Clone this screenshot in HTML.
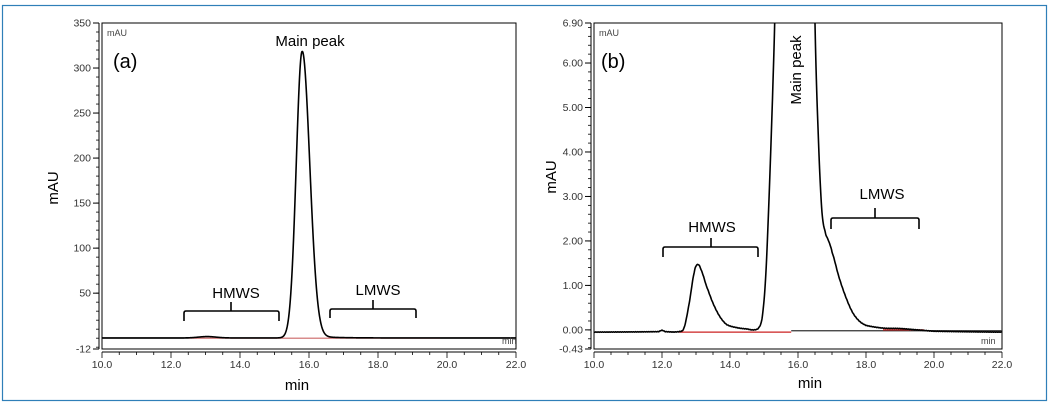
<!DOCTYPE html>
<html><head><meta charset="utf-8"><style>
html,body{margin:0;padding:0;background:#fff}
svg{display:block}
text{font-family:"Liberation Sans",Arial,sans-serif}
</style></head><body>
<svg id="s" width="1050" height="404" xmlns="http://www.w3.org/2000/svg">
<rect x="2.5" y="5.5" width="1044" height="395" fill="#fff" stroke="#2f7fb8" stroke-width="1.2"/>
<defs>
<clipPath id="ca"><rect x="102" y="23" width="414" height="326"/></clipPath>
<clipPath id="cb"><rect x="594" y="23" width="408" height="326"/></clipPath>
</defs>
<g id="ga"></g><g id="gb"></g>
<text x="107" y="36" font-size="9" fill="#444">mAU</text>
<text x="113" y="68" font-size="20" fill="#000">(a)</text>
<text x="310" y="46" font-size="15" fill="#000" text-anchor="middle">Main peak</text>
<text x="236" y="298" font-size="15" fill="#000" text-anchor="middle">HMWS</text>
<text x="378" y="295" font-size="15" fill="#000" text-anchor="middle">LMWS</text>
<path d="M184,321 V313 Q184,311 186,311 H277 Q279,311 279,313 V321 M231,311 V302" fill="none" stroke="#000" stroke-width="1.6"/>
<path d="M330,318 V311 Q330,309 332,309 H414 Q416,309 416,311 V318 M373,309 V300" fill="none" stroke="#000" stroke-width="1.6"/>
<text x="502" y="344" font-size="9" fill="#444">min</text>
<text x="297" y="390" font-size="15" fill="#000" text-anchor="middle">min</text>
<text transform="translate(58,188) rotate(-90)" font-size="15" fill="#000" text-anchor="middle">mAU</text>
<text x="599" y="36" font-size="9" fill="#444">mAU</text>
<text x="601" y="68" font-size="20" fill="#000">(b)</text>
<text transform="translate(801,70) rotate(-90)" font-size="15" fill="#000" text-anchor="middle">Main peak</text>
<text x="712" y="232" font-size="15" fill="#000" text-anchor="middle">HMWS</text>
<text x="882" y="199" font-size="15" fill="#000" text-anchor="middle">LMWS</text>
<path d="M663,257 V249 Q663,247 665,247 H756 Q758,247 758,249 V257 M711,247 V238" fill="none" stroke="#000" stroke-width="1.6"/>
<path d="M831,229 V220 Q831,218 833,218 H917 Q919,218 919,220 V229 M875,218 V208" fill="none" stroke="#000" stroke-width="1.6"/>
<text x="981" y="344" font-size="9" fill="#444">min</text>
<text x="810" y="388" font-size="15" fill="#000" text-anchor="middle">min</text>
<text transform="translate(556,177) rotate(-90)" font-size="15" fill="#000" text-anchor="middle">mAU</text>
</svg>
<script>
var NS="http://www.w3.org/2000/svg";
function el(p,t,a,txt){var e=document.createElementNS(NS,t);for(var k in a)e.setAttribute(k,a[k]);if(txt!==undefined)e.textContent=txt;p.appendChild(e);return e;}
function cr(pts,t){
  for(var i=0;i<pts.length-1;i++){if(t<=pts[i+1][0]){
    var p0=pts[Math.max(i-1,0)],p1=pts[i],p2=pts[i+1],p3=pts[Math.min(i+2,pts.length-1)];
    var u=(t-p1[0])/(p2[0]-p1[0]);var u2=u*u,u3=u2*u;
    return 0.5*((2*p1[1])+(-p0[1]+p2[1])*u+(2*p0[1]-5*p1[1]+4*p2[1]-p3[1])*u2+(-p0[1]+3*p1[1]-3*p2[1]+p3[1])*u3);}}
  return pts[pts.length-1][1];}
function panel(g,o){
  var X=function(t){return o.x0+(t-10)*(o.x1-o.x0)/12;};
  var Y=function(v){return o.y0+(o.vmax-v)*(o.y1-o.y0)/(o.vmax-o.vmin);};
  el(g,"rect",{x:o.x0,y:o.y0,width:o.x1-o.x0,height:o.y1-o.y0,fill:"none",stroke:"#000","stroke-width":1});
  var ax=o.x0-3;
  el(g,"line",{x1:ax,y1:o.y0,x2:ax,y2:o.y1,stroke:"#000","stroke-width":1});
  for(var v=o.minStart;v<=o.vmax+1e-9;v+=o.minor){el(g,"line",{x1:ax-3,y1:Y(v),x2:ax,y2:Y(v),stroke:"#000","stroke-width":0.8});}
  o.labels.forEach(function(l){var y=Y(l[0]);el(g,"line",{x1:ax-6,y1:y,x2:ax,y2:y,stroke:"#000","stroke-width":1});
    el(g,"text",{x:ax-8,y:y+3.5,"font-size":10.5,fill:"#333","text-anchor":"end"},l[1]);});
  var ay=o.y1+3;
  el(g,"line",{x1:o.x0,y1:ay,x2:o.x1,y2:ay,stroke:"#000","stroke-width":1});
  for(var t=10;t<=22.001;t+=0.5){var maj=Math.abs(t-Math.round(t/2)*2)<1e-6;
    el(g,"line",{x1:X(t),y1:ay,x2:X(t),y2:ay+(maj?6:3),stroke:"#000","stroke-width":0.8});
    if(maj)el(g,"text",{x:X(t),y:ay+16,"font-size":10.5,fill:"#333","text-anchor":"middle"},t.toFixed(1));}
  var c=el(g,"g",{"clip-path":o.clip});
  o.base.forEach(function(b){el(c,"line",{x1:X(b[0]),y1:Y(b[2]),x2:X(b[1]),y2:Y(b[2]),stroke:b[3],"stroke-width":1.2});});
  var d="";for(var t=10;t<=22;t+=0.005){d+=(d?"L":"M")+X(t).toFixed(2)+","+Y(o.f(t)).toFixed(2);}
  el(c,"path",{d:d,fill:"none",stroke:"#000","stroke-width":1.6});
}
function fa(t){var s=t<15.8?0.17:0.22;var v=318*Math.exp(-Math.pow(t-15.8,2)/(2*s*s));
  v+=1.5*Math.exp(-Math.pow(t-13.05,2)/(2*0.25*0.25));
  if(t>15.8)v+=4*Math.exp(-(t-15.8)/0.5)*(1-Math.exp(-(t-15.8)/0.1));
  return v+0.3;}
var pb=[[10,-0.05],[11.9,-0.04],[12.0,-0.01],[12.1,-0.04],[12.5,-0.04],[12.65,0.05],[12.8,0.6],[12.95,1.3],[13.05,1.47],[13.15,1.35],[13.3,1.0],[13.5,0.6],[13.7,0.3],[13.9,0.12],[14.2,0.05],[14.5,0.02],[14.7,0.0],[14.85,0.05],[14.95,0.3],[15.05,1.2],[15.15,3],[15.25,5.2],[15.33,7.5],[15.4,12],[15.8,30],[16.4,12],[16.5,6.9],[16.6,4.3],[16.7,2.7],[16.8,2.2],[16.9,2.0],[17.0,1.75],[17.2,1.2],[17.4,0.75],[17.6,0.4],[17.8,0.2],[18.0,0.1],[18.5,0.04],[19,0.03],[19.5,0.0],[20,-0.03],[22,-0.05]];
function fb(t){return cr(pb,t)+0.004*Math.sin(t*97);}
panel(document.getElementById("ga"),{x0:102,x1:516,y0:23,y1:349,vmin:-12,vmax:350,minor:10,minStart:-10,clip:"url(#ca)",
  labels:[[-12,"-12"],[50,"50"],[100,"100"],[150,"150"],[200,"200"],[250,"250"],[300,"300"],[350,"350"]],
  base:[[12.5,19.8,0,"#c66"],[10,12.5,0,"#555"],[19.8,22,0,"#555"]],f:fa});
panel(document.getElementById("gb"),{x0:594,x1:1002,y0:23,y1:349,vmin:-0.43,vmax:6.9,minor:0.2,minStart:-0.4,clip:"url(#cb)",
  labels:[[-0.43,"-0.43"],[0,"0.00"],[1,"1.00"],[2,"2.00"],[3,"3.00"],[4,"4.00"],[5,"5.00"],[6,"6.00"],[6.9,"6.90"]],
  base:[[12.5,15.8,-0.05,"#c22"],[15.8,22,-0.02,"#333"],[18.5,19.7,0.0,"#c22"]],f:fb});
</script>
</body></html>
